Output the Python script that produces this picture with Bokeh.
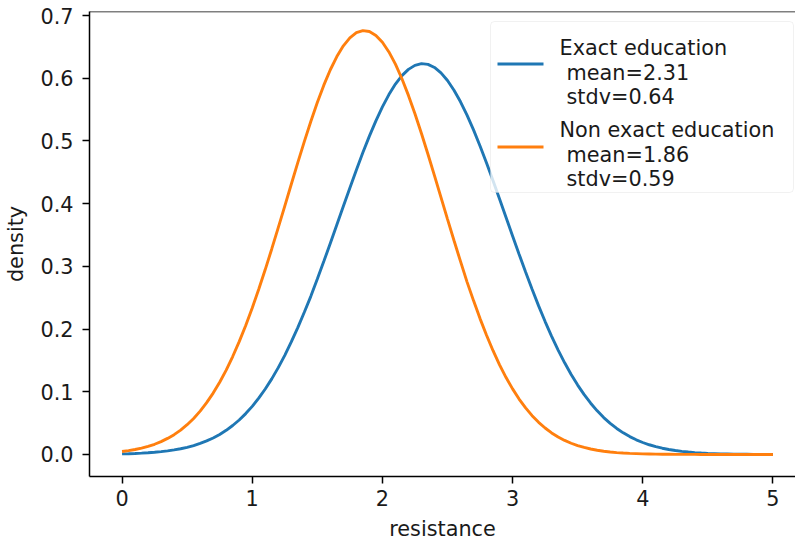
from bokeh.plotting import figure
from bokeh.models import (Range1d, FixedTicker, Label, BoxAnnotation, Arrow, Span)
from bokeh.embed import file_html
from bokeh.resources import INLINE

# ---- data ----
resistance = [round(i * 0.05, 2) for i in range(101)]
exact_density = [
    0.0009, 0.0012, 0.0016, 0.0021, 0.0027, 0.0035, 0.0045, 0.0057, 0.0073, 0.0091,
    0.0114, 0.0142, 0.0176, 0.0216, 0.0263, 0.0320, 0.0385, 0.0462, 0.0550, 0.0652,
    0.0767, 0.0898, 0.1044, 0.1206, 0.1385, 0.1581, 0.1795, 0.2024, 0.2268, 0.2522,
    0.2798, 0.3080, 0.3369, 0.3663, 0.3958, 0.4251, 0.4538, 0.4815, 0.5077, 0.5321,
    0.5544, 0.5740, 0.5907, 0.6042, 0.6142, 0.6206, 0.6233, 0.6221, 0.6172, 0.6086,
    0.5965, 0.5810, 0.5625, 0.5413, 0.5177, 0.4921, 0.4650, 0.4367, 0.4076, 0.3781,
    0.3486, 0.3195, 0.2910, 0.2634, 0.2370, 0.2120, 0.1884, 0.1665, 0.1462, 0.1276,
    0.1107, 0.0954, 0.0818, 0.0696, 0.0589, 0.0496, 0.0415, 0.0345, 0.0285, 0.0234,
    0.0191, 0.0155, 0.0125, 0.0100, 0.0080, 0.0063, 0.0050, 0.0039, 0.0030, 0.0023,
    0.0018, 0.0014, 0.0010, 0.0008, 0.0006, 0.0004, 0.0003, 0.0002, 0.0002, 0.0001,
    0.0001]
non_exact_density = [
    0.0047, 0.0061, 0.0079, 0.0101, 0.0129, 0.0163, 0.0205, 0.0256, 0.0316, 0.0389,
    0.0475, 0.0575, 0.0691, 0.0826, 0.0979, 0.1152, 0.1346, 0.1562, 0.1800, 0.2058,
    0.2337, 0.2635, 0.2949, 0.3278, 0.3617, 0.3962, 0.4310, 0.4654, 0.4990, 0.5311,
    0.5613, 0.5890, 0.6136, 0.6347, 0.6518, 0.6645, 0.6727, 0.6761, 0.6746, 0.6684,
    0.6574, 0.6420, 0.6225, 0.5992, 0.5727, 0.5435, 0.5120, 0.4789, 0.4448, 0.4101,
    0.3754, 0.3412, 0.3079, 0.2753, 0.2454, 0.2167, 0.1901, 0.1655, 0.1430, 0.1227,
    0.1046, 0.0884, 0.0743, 0.0619, 0.0513, 0.0422, 0.0344, 0.0279, 0.0224, 0.0179,
    0.0142, 0.0112, 0.0087, 0.0068, 0.0052, 0.0040, 0.0030, 0.0023, 0.0017, 0.0013,
    0.0009, 0.0007, 0.0005, 0.0004, 0.0003, 0.0002, 0.0001, 0.0001, 0.0001, 0.0000,
    0.0000, 0.0000, 0.0000, 0.0000, 0.0000, 0.0000, 0.0000, 0.0000, 0.0000, 0.0000,
    0.0000]
series_labels = [["Exact education", "mean=2.31", "stdv=0.64"],
                 ["Non exact education", "mean=1.86", "stdv=0.59"]]
x_ticks = [0, 1, 2, 3, 4, 5]
y_ticks = [0.0, 0.1, 0.2, 0.3, 0.4, 0.5, 0.6, 0.7]

# ---- layout constants ----
W, H = 795, 543
FL, FT, FB = 89, 11, 476          # frame left / top / bottom (px)
X0, XPPU = -0.25, 130.18          # x start, px per unit
Y1, YPPU = 0.7065, 627.0          # y end, px per unit
x_end = X0 + (W - FL) / XPPU
y_start = Y1 - (FB - FT) / YPPU

def dx(px):
    return X0 + (px - FL) / XPPU

def dy(py):
    return Y1 - (py - FT) / YPPU

BLUE, ORANGE = "#1f77b4", "#ff7f0e"
FONT = "DejaVu Sans"
FS = "20.8px"
TXT = "#1a1a1a"
LW = 2.9

p = figure(width=W, height=H, output_backend="svg", toolbar_location=None,
           x_range=Range1d(X0, x_end), y_range=Range1d(y_start, Y1),
           x_axis_label="resistance", y_axis_label="density",
           min_border_left=FL, min_border_top=FT, min_border_bottom=H - FB, min_border_right=0)
p.outline_line_color = None
p.xgrid.visible = False
p.ygrid.visible = False
p.background_fill_color = "white"
p.border_fill_color = "white"

for ax, ticks, overrides in ((p.xaxis[0], x_ticks, {t: str(t) for t in x_ticks}),
                             (p.yaxis[0], y_ticks, {t: f"{t:.1f}" for t in y_ticks})):
    ax.ticker = FixedTicker(ticks=ticks)
    ax.major_label_overrides = overrides
    ax.major_tick_out = 7
    ax.major_tick_in = 0
    ax.minor_tick_out = 0
    ax.minor_tick_in = 0
    ax.major_tick_line_width = 1.5
    ax.axis_line_width = 1.5
    ax.axis_line_color = "black"
    ax.major_tick_line_color = "black"
    ax.major_label_text_font = FONT
    ax.major_label_text_font_size = FS
    ax.major_label_text_color = TXT
    ax.axis_label_text_font = FONT
    ax.axis_label_text_font_size = FS
    ax.axis_label_text_font_style = "normal"
    ax.axis_label_text_color = TXT
p.xaxis[0].major_label_standoff = 6
p.xaxis[0].axis_label_standoff = 8
p.yaxis[0].major_label_standoff = 9
p.yaxis[0].axis_label_standoff = 9

# top spine
p.add_layout(Span(location=Y1, dimension="width", line_color="black", line_width=1.5))

p.line(resistance, exact_density, line_color=BLUE, line_width=LW)
p.line(resistance, non_exact_density, line_color=ORANGE, line_width=LW)

# ---- legend (drawn manually to allow multi-line labels) ----
p.add_layout(BoxAnnotation(left=dx(490), right=dx(793), top=dy(21), bottom=dy(192),
                           fill_color="white", fill_alpha=0.8, line_color="#d0d0d0",
                           line_width=1, border_radius=4, level="overlay"))
handle_y = [63.5, 146.5]
baselines = [[47, 72.5, 96.5], [129, 154, 178]]
for i, color in enumerate([BLUE, ORANGE]):
    p.add_layout(Arrow(end=None, x_start=dx(497), x_end=dx(543),
                       y_start=dy(handle_y[i]), y_end=dy(handle_y[i]),
                       line_color=color, line_width=LW, level="overlay"))
    for j, line in enumerate(series_labels[i]):
        p.add_layout(Label(x=dx(559 if j == 0 else 566), y=dy(baselines[i][j]), text=line,
                           text_font=FONT, text_font_size=FS, text_color=TXT,
                           text_baseline="alphabetic", text_align="left", level="overlay"))

open("out.html", "w").write(file_html(p, INLINE))
